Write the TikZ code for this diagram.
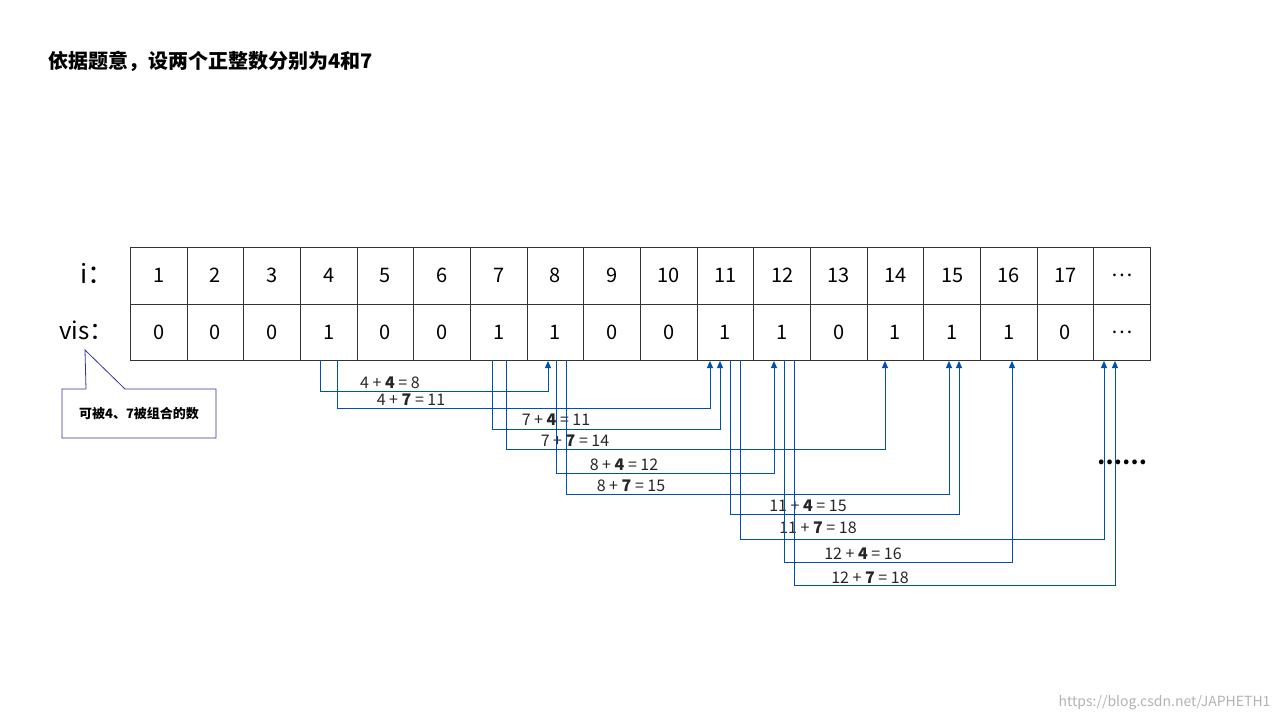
\documentclass[tikz,border=0pt]{standalone}
\usepackage{fontspec}
\setmainfont{Noto Sans CJK SC}
\usetikzlibrary{arrows.meta}
\begin{document}
\begin{tikzpicture}[x=1pt,y=-1pt,
  cell/.style={draw=black!80,line width=0.8pt,minimum width=56.67pt,minimum height=56.5pt,inner sep=0pt,anchor=north west,font=\fontsize{20}{24}\selectfont},
  link/.style={draw=blue!55!cyan!70!black,line width=0.9pt,-{Triangle[length=7pt,width=6pt]}},
  lab/.style={font=\fontsize{16}{19}\selectfont,text=black!85,inner sep=0pt}]
\useasboundingbox (0,0) rectangle (1280,720);
\node[anchor=west,font=\fontsize{20}{24}\selectfont\bfseries] (title) at (45,61) {依据题意，设两个正整数分别为4和7};
\node[anchor=east,font=\fontsize{26}{30}\selectfont] (ilab) at (117,273) {i：};
\node[anchor=east,font=\fontsize{24}{28}\selectfont] (vlab) at (117,330) {vis：};
\foreach \k/\a/\b in {1/1/0,2/2/0,3/3/0,4/4/1,5/5/0,6/6/0,7/7/1,8/8/1,9/9/0,10/10/0,11/11/1,12/12/1,13/13/0,14/14/1,15/15/1,16/16/1,17/17/0,18/\dots/\dots}{
  \node[cell] (i\k) at ({130+(\k-1)*56.67},247) {\a};
  \node[cell] (v\k) at ({130+(\k-1)*56.67},303.5) {\b};
}
\foreach \n/\xs/\yy/\xe/\lx/\ly/\p/\q/\r in {
 1/320/391/548/390/383/4/4/8,
 2/337/408/710/411/400/4/7/11,
 3/492/429/720/556/420/7/4/11,
 4/506/449/885/575/441/7/7/14,
 5/556/473/774/624/465/8/4/12,
 6/566/494/949/631/486/8/7/15,
 7/730/514/959/808/506/11/4/15,
 8/740/539/1104/818/528/11/7/18,
 9/784/562/1012/863/554/12/4/16,
 10/794/585/1115/870/578/12/7/18}{
  \coordinate (s\n) at (\xs,360);
  \coordinate (e\n) at (\xe,361);
  \draw[link] (s\n) |- (\xe,\yy) -- (e\n);
  \node[lab] (l\n) at (\lx,\ly) {\p{} + \textbf{\q} = \r};
}
\node[font=\fontsize{22}{26}\selectfont\bfseries] (dots) at (1122,462) {……};
\draw[draw=blue!50!black!80,line width=0.8pt,fill=white] (62,389) -- (86,389) -- (85,350) -- (125,389) -- (216,389) -- (216,438) -- (62,438) -- cycle;
\node[font=\fontsize{13}{16}\selectfont\bfseries] (note) at (139,414) {可被4、7被组合的数};
\node[anchor=east,font=\fontsize{14}{16}\selectfont,text=black!30] (wm) at (1274,703) {https://blog.csdn.net/JAPHETH1};
\end{tikzpicture}
\end{document}
